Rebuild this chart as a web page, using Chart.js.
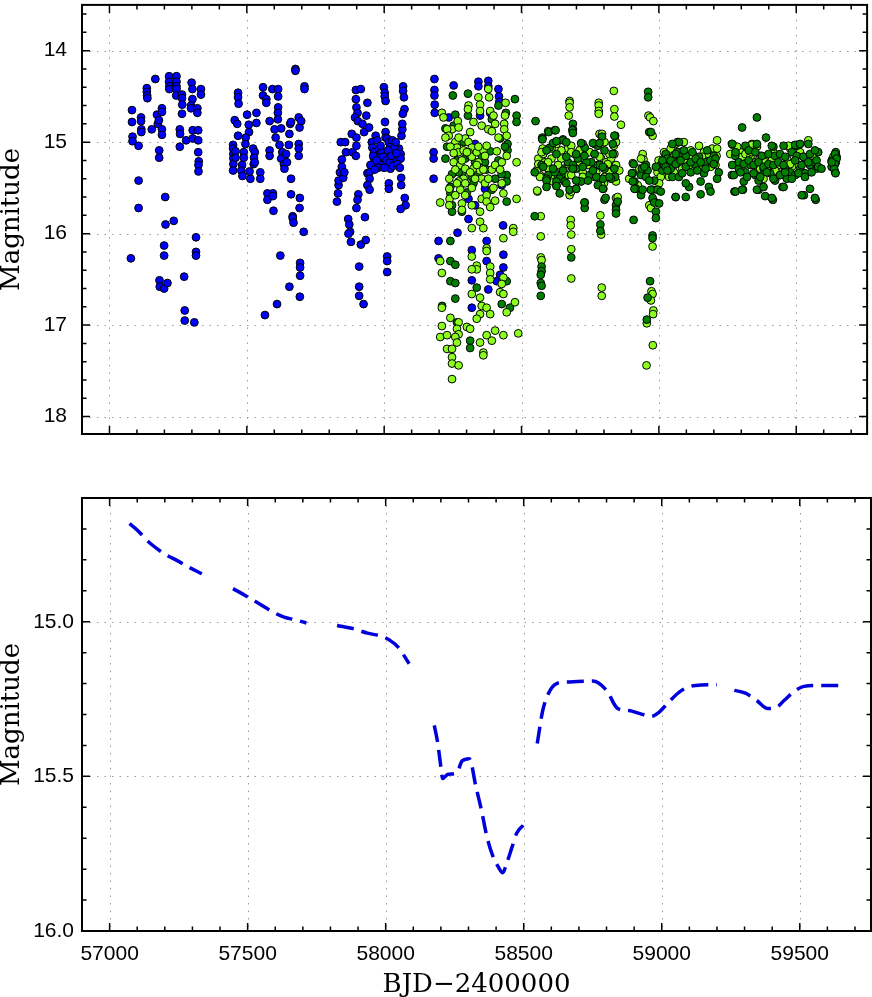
<!DOCTYPE html>
<html><head><meta charset="utf-8">
<script src="https://cdn.jsdelivr.net/npm/chart.js@4.4.1/dist/chart.umd.min.js"></script>
<style>
html,body{margin:0;padding:0;background:#fff;width:872px;height:997px;overflow:hidden}
#c1{position:absolute;left:0;top:0}
#c2{position:absolute;left:0;top:440px}
</style></head><body>
<canvas id="c1" width="872" height="440"></canvas>
<canvas id="c2" width="872" height="557"></canvas>
<script>
// ---------- tick labels ----------
const xTickLabels = [57000, 57500, 58000, 58500, 59000, 59500];
const topMagTicks = [14, 15, 16, 17, 18];
const botMagTicks = [15.0, 15.5, 16.0];

// ---------- top panel: [BJD-2400000, magnitude] ----------
const blueSeries = [
[57078,16.27],[57082,14.65],[57082,14.78],[57084,14.94],[57084,14.99],[57106,15.04],[57106,15.42],[57106,15.72],
[57115,14.73],[57115,14.77],[57116,14.86],[57116,14.89],[57136,14.41],[57136,14.45],[57137,14.49],[57138,14.52],
[57154,14.86],[57167,14.31],[57173,14.70],[57176,14.80],[57180,14.76],[57181,15.09],[57181,15.17],
[57191,14.63],[57191,14.67],[57191,14.86],[57191,14.92],[57203,15.60],[57204,15.90],[57199,16.13],[57199,16.24],
[57182,16.51],[57183,16.58],[57199,16.60],[57211,16.54],[57234,15.86],
[57217,14.28],[57217,14.34],[57218,14.39],[57218,14.42],[57244,14.28],[57244,14.34],[57244,14.39],[57244,14.42],[57243,14.49],
[57264,14.48],[57264,14.52],[57265,14.59],[57264,14.69],[57256,14.86],[57257,14.91],[57256,15.05],[57279,14.98],
[57272,16.47],[57274,16.84],[57274,16.95],[57309,16.97],[57299,14.35],[57302,14.42],[57302,14.53],[57297,14.60],[57297,14.63],
[57320,14.63],[57320,14.68],[57303,14.87],[57303,14.96],[57323,14.87],[57323,14.98],[57323,15.11],[57325,15.21],[57324,15.25],[57324,15.32],
[57315,16.04],[57315,16.20],[57315,16.24],[57333,14.42],[57333,14.48],
[57450,15.03],[57450,15.07],[57451,15.13],[57451,15.18],[57451,15.24],[57450,15.31],[57456,14.76],[57465,14.80],[57468,14.46],[57468,14.51],[57470,14.58],[57468,14.93],[57459,15.10],[57459,15.17],
[57501,14.70],[57507,14.81],[57508,14.89],[57496,14.95],[57495,15.02],[57489,15.11],[57489,15.17],[57483,15.25],[57480,15.31],[57484,15.37],
[57513,15.40],[57510,15.32],[57523,15.07],[57529,15.11],[57526,15.17],[57525,15.24],[57529,15.22],[57535,14.68],[57535,14.79],[57549,15.33],[57549,15.40],
[57559,14.40],[57559,14.49],[57571,14.53],[57571,14.57],[57583,14.77],[57583,15.09],[57583,15.15],
[57593,14.42],[57614,14.42],[57614,14.50],[57614,14.62],[57613,14.68],[57613,14.75],[57601,14.86],[57605,14.95],[57619,15.03],
[57575,15.56],[57575,15.63],[57595,15.56],[57595,15.59],[57597,15.75],[57622,16.24],[57610,16.77],[57566,16.89],
[57625,14.85],[57629,15.11],[57625,15.18],[57635,15.24],[57637,15.29],[57643,15.13],[57646,15.22],[57653,15.03],[57655,14.91],[57658,14.80],[57661,14.78],
[57661,15.40],[57661,15.57],[57667,15.81],[57667,15.83],[57670,15.88],[57677,14.20],[57677,14.22],
[57689,15.02],[57689,15.07],[57689,15.15],[57689,14.73],[57692,14.84],[57698,14.77],[57693,15.61],[57692,15.72],
[57694,16.32],[57694,16.37],[57694,16.46],[57655,16.58],[57693,16.69],[57707,15.98],[57710,14.39],[57710,14.42],
[57828,15.65],[57832,15.56],[57834,15.47],[57834,15.42],[57839,15.33],[57846,15.27],[57846,15.19],[57851,15.39],[57855,15.33],[57842,15.00],[57858,15.00],[57861,15.11],[57882,14.91],[57885,15.11],
[57869,15.84],[57873,15.90],[57876,15.98],[57870,16.00],[57879,16.09],
[57897,14.43],[57915,14.42],[57897,14.53],[57899,14.62],[57903,14.68],[57894,14.73],[57904,14.77],[57921,14.80],[57927,14.89],[57935,14.71],[57939,14.57],[57945,14.84],
[57899,14.95],[57899,15.04],[57897,15.15],[57906,15.57],[57903,15.63],[57899,15.72],[57915,16.12],[57930,15.82],[57933,16.07],
[57909,16.36],[57909,16.58],[57909,16.68],[57925,16.77],
[57939,15.34],[57947,15.33],[57947,15.40],[57939,15.47],[57947,15.52],
[57955,15.00],[57957,15.06],[57963,15.11],[57963,15.18],[57967,15.24],[57969,14.93],[57975,14.98],[57981,15.07],[57981,15.15],[57984,15.22],[57991,15.11],[57993,15.25],
[57999,14.40],[58002,14.46],[58002,14.50],[58005,14.55],[58003,14.78],[58005,14.89],[58005,14.95],[58011,14.96],[58017,15.00],
[58017,15.45],[58017,15.51],[58011,16.25],[58011,16.30],[58011,16.42],
[58023,15.05],[58023,15.11],[58023,15.29],[58030,14.98],[58036,15.11],[58042,15.18],[58054,15.07],[58060,15.13],[58060,15.18],[58063,14.93],[58066,14.86],[58066,14.80],
[58069,14.39],[58069,14.44],[58072,14.51],[58074,14.64],[58068,14.69],[58062,15.39],[58062,15.47],[58075,15.61],[58078,15.69],[58060,15.73],
[57960,15.15],[57972,15.20],[57978,15.28],[57987,15.04],[57996,15.16],[58008,15.20],[58014,15.09],[58020,15.22],[58026,15.15],[58032,15.26],[58038,15.05],[58044,15.12],[58048,15.24],[58057,15.28],[57950,15.25],[57966,15.30],[58000,15.28],[58042,15.00],
[58183,14.31],[58183,14.43],[58183,14.49],[58184,14.59],[58184,14.68],[58253,14.38],[58343,14.34],[58343,14.39],[58379,14.33],[58379,14.39],
[58416,14.42],[58418,14.50],[58419,14.56],[58180,15.11],[58180,15.18],[58180,15.40],[58307,15.84],[58267,15.99],[58198,16.08],[58373,16.08],
[58433,15.91],[58198,16.27],[58319,16.18],[58434,16.23],[58373,16.30],[58434,16.37],[58319,16.51],[58410,16.52],[58379,16.61],[58319,16.81],
[58422,16.45],[58428,15.47],[58367,15.51],[58331,15.02],[58349,14.71],[58235,14.73],[58386,14.68],[58307,15.62],[58331,15.69]
];

const limeSeries = [
[58210,14.68],[58216,14.73],[58247,14.86],[58268,14.77],[58271,14.84],[58229,14.86],[58235,14.93],[58259,15.00],[58265,15.06],[58295,14.96],[58307,15.00],[58319,15.06],[58313,14.89],
[58307,14.60],[58305,14.64],[58343,14.51],[58349,14.59],[58349,14.66],[58379,14.42],[58382,14.51],[58386,14.66],[58355,14.82],[58379,14.86],[58404,14.80],[58437,14.80],[58437,14.86],[58442,14.57],[58398,14.71],[58440,14.71],
[58271,15.11],[58289,15.09],[58307,15.11],[58319,15.16],[58337,15.11],[58361,15.09],[58373,15.04],[58343,15.22],[58253,15.22],[58277,15.25],[58295,15.29],[58325,15.29],[58349,15.31],[58289,15.40],[58271,15.43],[58355,15.40],[58367,15.45],
[58237,15.40],[58237,15.51],[58238,15.62],[58237,15.69],[58204,15.66],[58277,15.52],[58295,15.58],[58283,15.67],[58283,15.74],[58319,15.69],[58355,15.62],[58373,15.58],[58373,15.65],[58386,15.71],[58349,15.76],[58349,15.87],[58361,15.94],[58319,15.94],
[58428,15.22],[58482,15.22],[58482,15.62],[58434,15.56],[58470,15.94],[58470,15.98],[58434,16.05],[58373,16.16],[58373,16.19],[58319,16.25],[58337,16.35],[58337,16.39],[58319,16.39],[58386,16.36],[58386,16.43],[58386,16.50],
[58434,16.48],[58428,16.55],[58422,16.64],[58434,16.66],[58204,16.30],[58210,16.43],[58319,16.66],[58349,16.70],[58355,16.79],[58373,16.81],[58386,16.88],[58349,16.88],[58337,16.93],[58210,16.81],[58241,16.92],[58271,16.97],
[58301,17.02],[58265,17.04],[58271,17.10],[58210,17.01],[58204,17.13],[58229,17.11],[58259,17.13],[58265,17.19],[58313,17.04],[58349,17.19],[58373,17.11],[58392,17.17],[58404,17.06],[58434,17.11],[58446,16.86],[58476,16.75],[58488,17.09],
[58229,17.26],[58247,17.26],[58361,17.30],[58361,17.33],[58247,17.35],[58247,17.42],[58271,17.44],[58247,17.59],
[58223,14.95],[58241,15.05],[58253,15.12],[58259,15.30],[58265,15.45],[58283,15.20],[58295,15.45],[58301,15.11],[58313,15.33],[58319,15.50],[58331,15.40],[58337,15.25],[58343,15.05],[58361,15.30],[58367,15.15],
[58379,15.40],[58392,15.30],[58398,15.50],[58404,15.25],[58410,15.10],[58416,14.95],[58422,15.30],[58428,15.45],[58446,15.15],[58446,14.93],[58259,15.58],[58271,14.95],[58325,14.78],[58392,14.88],[58404,15.64],
[58836,14.44],[58675,14.55],[58675,14.57],[58675,14.62],[58672,14.71],[58781,14.57],[58781,14.60],[58781,14.66],[58781,14.69],[58838,14.64],[58838,14.72],[58862,14.81],[58784,14.91],[58792,14.93],[58577,15.07],[58558,15.54],
[58675,15.58],[58681,15.54],[58798,15.51],[58800,15.45],[58836,15.04],[58838,15.13],[58844,15.25],[58570,15.81],[58570,16.03],[58570,16.26],[58573,16.29],[58679,15.85],[58679,15.91],[58681,16.01],[58681,16.17],[58681,16.49],
[58787,15.80],[58790,16.01],[58792,16.59],[58792,16.68],[58844,15.61],[58848,15.65],
[58561,15.18],[58585,15.22],[58609,15.18],[58633,15.25],[58657,15.29],[58567,15.36],[58615,15.43],[58663,15.36],[58579,15.13],[58627,15.02],[58669,15.07],[58693,15.13],[58717,15.07],[58742,15.11],
[58766,15.13],[58790,15.18],[58814,15.25],[58723,15.33],[58772,15.33],[58820,15.33],[58711,15.24],[58760,15.27],[58808,15.22],[58555,15.31],[58681,15.04],[58826,15.18],[58645,15.18],[58597,15.29],
[58597,14.88],[58793,14.91],[58576,14.95],[58651,14.97],[58723,15.02],[58766,15.02],[58802,15.00],[58844,15.00],
[58573,15.11],[58609,15.07],[58645,15.09],[58681,15.11],[58711,15.09],[58748,15.11],[58784,15.16],[58820,15.13],
[58561,15.24],[58597,15.22],[58633,15.25],[58669,15.24],[58705,15.22],[58742,15.25],[58778,15.25],[58814,15.24],[58856,15.31],
[58567,15.38],[58609,15.36],[58645,15.38],[58681,15.36],[58723,15.38],[58766,15.38],[58802,15.38],[58844,15.43],[58557,15.53],[58790,15.47],[58850,15.60],
[58962,14.71],[58968,14.73],[58980,14.77],[58977,14.93],[58892,15.40],[58905,15.34],[58929,15.29],[58941,15.13],[58944,15.19],[58965,15.69],[58971,15.72],[58977,15.52],[58995,15.33],[59019,15.18],
[58977,16.14],[58973,16.63],[58977,16.66],[58971,16.73],[58980,16.84],[58979,16.88],[58956,16.98],[58978,17.22],[58955,17.44],
[58905,15.23],[58923,15.47],[58935,15.18],[58999,15.20],[59025,15.34],[59061,15.02],[59049,15.29],
[59067,15.00],[59091,15.00],[59146,15.04],[59212,14.98],[59210,15.15],[59019,15.11],[59043,15.07],[59055,15.15],[59079,15.11],[59116,15.09],[59128,15.15],[59164,15.11],[59176,15.18],[59194,15.07],
[59140,15.22],[59104,15.20],[59055,15.33],[59037,15.38],[59007,15.38],[59001,15.45],[59085,15.29],[59188,15.27],[59206,15.25],[59152,15.29],
[59025,15.22],[59049,15.24],[59073,15.16],[59098,15.20],[59122,15.16],[59158,15.16],[59182,15.13],[59212,15.07],[59110,15.25],[59170,15.25],
[59273,15.04],[59297,15.11],[59321,15.07],[59339,15.02],[59369,15.15],[59393,15.20],[59417,15.11],[59441,15.25],[59466,15.18],[59478,15.07],[59490,15.04],[59514,15.11],[59526,15.16],[59544,14.98],
[59562,15.15],[59502,15.24],[59429,15.33],[59357,15.27],[59309,15.18],[59285,15.24],[59381,15.40],[59454,15.36],[59484,15.27],[59411,15.25],[59345,15.22],
[59285,15.05],[59339,15.03],[59357,15.05],[59472,15.04],[59260,15.13],[59291,15.18],[59303,15.16],[59315,15.13],[59333,15.16],[59339,15.11],[59363,15.20],[59387,15.22],[59411,15.20],[59478,15.24],[59369,15.29],[59393,15.30],[59423,15.31],
[59635,15.25],[59637,15.18],[59635,15.16]
];

const greenSeries = [
[58250,14.49],[58253,14.82],[58223,14.85],[58223,15.18],[58241,15.49],[58241,15.56],[58247,15.69],[58283,15.76],[58247,15.76],[58446,15.36],[58446,15.43],[58422,14.96],[58449,15.02],[58449,15.09],
[58482,14.71],[58482,14.78],[58476,14.53],[58305,14.47],[58305,14.71],[58416,14.60],[58443,14.68],[58392,15.52],[58446,15.65],[58211,16.79],[58241,16.08],[58241,16.30],[58259,16.34],[58241,16.52],
[58259,16.54],[58259,16.71],[58337,16.59],[58428,16.77],[58458,16.81],[58313,17.17],[58313,17.25],[58265,16.97],[58446,16.52],[58283,15.34],[58319,15.38],[58295,15.18],[58331,15.22],[58271,15.33],[58367,15.22],
[58229,15.05],[58247,15.35],[58265,15.20],[58289,15.00],[58301,15.55],[58313,15.15],[58325,15.45],[58343,15.35],[58355,15.15],[58373,15.30],[58386,15.10],[58404,15.40],[58416,15.20],[58428,15.35],[58440,15.05],[58259,14.70],[58392,14.75],
[58573,16.36],[58573,16.41],[58570,16.45],[58570,16.54],[58573,16.57],[58570,16.68],[58681,16.26],[58787,15.90],[58787,15.97],[58844,15.69],[58844,15.74],[58844,15.78],
[58573,15.25],[58597,15.36],[58621,15.33],[58645,15.36],[58669,15.22],[58591,15.40],[58639,15.40],[58603,15.06],[58651,14.98],[58705,15.18],[58730,15.06],[58754,15.22],[58778,15.04],[58802,15.29],
[58699,15.29],[58748,15.36],[58796,15.40],[58687,15.25],[58736,15.22],[58784,15.25],[58627,15.47],[58699,15.51],[58772,15.38],[58841,15.38],[58548,15.33],[58826,15.40],[58657,15.43],[58717,15.43],
[58599,14.89],[58621,14.87],[58575,14.96],[58551,14.77],[58687,14.80],[58687,14.86],[58841,14.93],[58730,15.66],[58730,15.72],[58802,15.63],[58548,15.81],[58908,15.85],
[58624,14.87],[58685,14.87],[58687,14.90],[58793,14.94],[58838,14.93],[58576,14.97],[58615,15.01],[58627,14.99],[58663,15.00],[58717,15.01],[58760,15.01],[58784,15.01],[58832,15.02],
[58591,15.09],[58627,15.13],[58663,15.16],[58699,15.13],[58729,15.15],[58766,15.13],[58802,15.09],[58832,15.13],
[58579,15.27],[58615,15.29],[58651,15.31],[58687,15.29],[58723,15.27],[58760,15.31],[58796,15.27],[58838,15.29],
[58591,15.42],[58627,15.43],[58663,15.45],[58699,15.42],[58742,15.42],[58778,15.47],[58820,15.38],
[58591,15.49],[58627,15.48],[58675,15.52],[58699,15.51],[58729,15.66],[58796,15.51],[58806,15.61],[58850,15.65],[58639,15.56],
[58961,14.45],[58961,14.51],[58965,14.89],[58911,15.43],[58917,15.51],[58935,15.36],[58935,15.58],[58908,15.24],[58953,15.25],[58983,15.65],[58989,15.76],[58989,15.83],[58983,15.42],[59007,15.25],[59025,15.13],[58959,15.31],
[58977,16.02],[58977,16.05],[58968,16.52],[58959,16.70],[58956,16.94],
[58902,15.34],[58905,15.43],[58911,15.51],[58938,15.29],[58947,15.27],[58953,15.38],[58941,15.52],[58965,15.42],[58971,15.52],[58971,14.89],[58989,15.27],[59013,15.31],[59037,15.24],[59073,15.00],[59067,15.11],[59079,15.16],[59049,15.38],[58995,15.52],[58977,15.61],[58983,15.66],[59061,15.60],
[59031,15.18],[59067,15.22],[59098,15.15],[59134,15.25],[59170,15.22],[59200,15.15],[59218,15.33],[59212,15.40],[59182,15.49],[59188,15.54],[59152,15.57],[59152,15.43],[59110,15.49],[59098,15.45],
[59061,15.60],[59098,15.60],[59007,15.54],[59001,15.67],[59043,15.29],[59116,15.33],[59073,15.38],[59164,15.34],[59019,15.25],[59146,15.16],[59049,15.02],
[59013,15.20],[59025,15.27],[59043,15.20],[59061,15.24],[59079,15.20],[59098,15.27],[59116,15.22],[59134,15.18],[59152,15.22],[59170,15.29],[59188,15.20],[59206,15.18],[59061,15.13],[59091,15.09],[59122,15.11],[59176,15.09],[59200,15.24],[59140,15.31],[59031,15.31],[59085,15.34],
[59303,14.84],[59357,14.73],[59390,14.95],[59266,15.02],[59278,15.15],[59291,15.29],[59315,15.33],[59333,15.25],[59351,15.36],[59363,15.42],[59381,15.29],[59405,15.34],[59423,15.42],[59441,15.36],
[59460,15.29],[59478,15.33],[59496,15.36],[59514,15.29],[59532,15.34],[59550,15.25],[59568,15.22],[59574,15.29],[59580,15.11],[59544,15.02],[59417,15.05],[59357,15.02],[59266,15.36],[59309,15.43],
[59466,15.40],[59502,15.04],[59275,15.54],[59306,15.52],[59363,15.52],[59387,15.59],[59415,15.63],[59450,15.49],[59528,15.58],[59550,15.51],[59571,15.63],
[59267,15.02],[59315,15.04],[59411,15.04],[59454,15.04],[59496,15.03],[59514,15.02],
[59279,15.11],[59327,15.09],[59351,15.11],[59375,15.15],[59399,15.13],[59423,15.15],[59441,15.13],[59460,15.16],[59484,15.11],[59502,15.15],[59526,15.16],[59550,15.13],[59568,15.09],
[59267,15.25],[59291,15.22],[59309,15.24],[59327,15.20],[59345,15.25],[59363,15.22],[59381,15.27],[59399,15.24],[59417,15.25],[59435,15.22],[59454,15.25],[59496,15.20],[59520,15.25],[59544,15.22],[59574,15.20],
[59273,15.36],[59297,15.33],[59321,15.38],[59345,15.34],[59369,15.38],[59393,15.33],[59417,15.40],[59441,15.36],[59460,15.33],[59484,15.40],[59508,15.34],[59532,15.38],[59556,15.33],[59580,15.27],
[59279,15.54],[59303,15.52],[59357,15.52],[59381,15.49],[59411,15.61],[59454,15.49],[59520,15.58],[59568,15.61],[59592,15.29],
[59644,15.11],[59647,15.16],[59644,15.22],[59642,15.33],[59629,15.20],[59629,15.27],[59641,15.13],[59647,15.18],[59641,15.24],[59638,15.29],[59643,15.34],[59629,15.22]
];

// season boundary used only to decide which colour sits on top in the overlap
const SPLIT_JD = 58520;

// ---------- bottom panel: smoothed curve (null = gap) ----------
const curveJD  = [57072,57099,57149,57209,57240,57290,57334, 57390, 57447,57491,57542,57592,57632,57673,57713, 57770,
  57824,57884,57934,57985,58015,58045,58085, 58130,
  58176,58188,58200,58206,58226,58257,58277,58303,58327,58347,58367,58387,58408,58424,58438,58458,58474,58498, 58525,
  58549,58569,58589,58619,58659,58750,58800,58841,58881,58921,58961,58991,59022,59072,59122,59183,59200, 59230,
  59263,59303,59343,59384,59414,59444,59485,59515,59565,59646];
const curveMag = [14.683,14.703,14.748,14.786,14.800,14.825,14.845, null, 14.893,14.915,14.942,14.969,14.985,14.994,15.004, null,
  15.012,15.023,15.037,15.047,15.060,15.082,15.136, null,
  15.335,15.389,15.470,15.507,15.493,15.489,15.450,15.443,15.534,15.610,15.696,15.755,15.793,15.812,15.782,15.728,15.685,15.658, null,
  15.394,15.287,15.233,15.200,15.195,15.192,15.222,15.281,15.287,15.297,15.306,15.292,15.263,15.222,15.206,15.204,15.204, null,
  15.222,15.231,15.254,15.281,15.278,15.254,15.222,15.209,15.206,15.206];

// ---------- helpers ----------
const range = (a, b, s) => { const r = []; for (let v = a; v <= b + 1e-9; v += s) r.push(+v.toFixed(4)); return r; };
const pts = arr => arr.map(([x, y]) => ({x, y}));
const early = arr => arr.filter(p => p[0] < SPLIT_JD);
const late = arr => arr.filter(p => p[0] >= SPLIT_JD);
const noPad = s => { s.paddingTop = 0; s.paddingBottom = 0; s.paddingLeft = 0; s.paddingRight = 0; };

const framePlugin = {
  id: 'frame',
  beforeDatasetsDraw(chart, args, o) {
    const {ctx, chartArea: a} = chart, x = chart.scales.x, y = chart.scales.y;
    ctx.save();
    ctx.strokeStyle = '#9a9a9a'; ctx.lineWidth = 1; ctx.setLineDash([1.5, 6]);
    ctx.beginPath();
    o.xMajor.forEach(v => { const p = Math.round(x.getPixelForValue(v)) + 0.5; ctx.moveTo(p, a.top); ctx.lineTo(p, a.bottom); });
    o.yMajor.forEach(v => { const p = Math.round(y.getPixelForValue(v)) + 0.5; ctx.moveTo(a.left, p); ctx.lineTo(a.right, p); });
    ctx.stroke(); ctx.restore();
  },
  afterDatasetsDraw(chart, args, o) {
    const {ctx, chartArea: a} = chart, x = chart.scales.x, y = chart.scales.y;
    ctx.save();
    ctx.strokeStyle = '#000'; ctx.lineWidth = 1.5; ctx.beginPath();
    const tx = (v, L) => { const p = x.getPixelForValue(v); ctx.moveTo(p, a.bottom); ctx.lineTo(p, a.bottom - L); ctx.moveTo(p, a.top); ctx.lineTo(p, a.top + L); };
    const ty = (v, L) => { const p = y.getPixelForValue(v); ctx.moveTo(a.left, p); ctx.lineTo(a.left + L, p); ctx.moveTo(a.right, p); ctx.lineTo(a.right - L, p); };
    o.xMinor.forEach(v => tx(v, 4.5)); o.xMajor.forEach(v => tx(v, 8));
    o.yMinor.forEach(v => ty(v, 4.5)); o.yMajor.forEach(v => ty(v, 8));
    ctx.stroke();
    ctx.lineWidth = 2; ctx.strokeRect(a.left, a.top, a.right - a.left, a.bottom - a.top);
    ctx.restore();
  }
};

const tickFont = {family: 'Liberation Sans', size: 21};
const titleFont = {family: 'DejaVu Serif', size: 26, lineHeight: 0.92};
const XMIN = 56900, XMAX = 59758;
const BLUE = '#0000ff', DARK = '#007f00', LIME = '#8cff1e';

const ptStyle = (fill, order) => ({
  type: 'scatter', backgroundColor: fill, borderColor: '#000', borderWidth: 1,
  pointRadius: 3.9, pointHoverRadius: 3.9, order
});

new Chart(document.getElementById('c1'), {
  type: 'scatter',
  data: { datasets: [
    Object.assign({ label: 'blue', data: pts(blueSeries) }, ptStyle(BLUE, 5)),
    Object.assign({ label: 'dark-early', data: pts(early(greenSeries)) }, ptStyle(DARK, 4)),
    Object.assign({ label: 'lime-early', data: pts(early(limeSeries)) }, ptStyle(LIME, 3)),
    Object.assign({ label: 'lime-late', data: pts(late(limeSeries)) }, ptStyle(LIME, 2)),
    Object.assign({ label: 'dark-late', data: pts(late(greenSeries)) }, ptStyle(DARK, 1))
  ]},
  options: {
    responsive: false, animation: false, devicePixelRatio: 1,
    layout: { padding: { top: 2, right: 1, left: 0, bottom: 0 } },
    plugins: { legend: { display: false }, tooltip: { enabled: false },
      frame: { xMajor: xTickLabels, xMinor: range(56900, 59700, 100), yMajor: topMagTicks, yMinor: range(13.6, 18.0, 0.2) } },
    scales: {
      x: { type: 'linear', min: XMIN, max: XMAX,
        grid: { display: false, drawTicks: false }, border: { display: false },
        ticks: { display: false }, afterFit: s => { s.height = 6; noPad(s); } },
      y: { type: 'linear', reverse: true, min: 13.5, max: 18.19,
        afterBuildTicks: s => { s.ticks = topMagTicks.map(v => ({ value: v })); },
        grid: { display: false, drawTicks: false }, border: { display: false },
        ticks: { font: tickFont, color: '#000', padding: 15, autoSkip: false },
        title: { display: true, text: 'Magnitude', font: titleFont, color: '#000', padding: 0 },
        afterFit: s => { s.width = 82; noPad(s); } }
    }
  },
  plugins: [framePlugin]
});

new Chart(document.getElementById('c2'), {
  type: 'line',
  data: { datasets: [{
    label: 'curve', data: curveJD.map((x, i) => ({ x, y: curveMag[i] })),
    borderColor: '#0000dc', borderWidth: 3.5, borderDash: [17, 8], pointRadius: 0,
    spanGaps: false, cubicInterpolationMode: 'monotone', fill: false
  }]},
  options: {
    responsive: false, animation: false, devicePixelRatio: 1,
    layout: { padding: { top: 58, right: 1, left: 0, bottom: 0 } },
    plugins: { legend: { display: false }, tooltip: { enabled: false },
      frame: { xMajor: xTickLabels, xMinor: range(56900, 59700, 100), yMajor: botMagTicks, yMinor: range(14.7, 16.0, 0.1) } },
    scales: {
      x: { type: 'linear', min: XMIN, max: XMAX,
        afterBuildTicks: s => { s.ticks = xTickLabels.map(v => ({ value: v })); },
        grid: { display: false, drawTicks: false }, border: { display: false },
        ticks: { font: tickFont, color: '#000', padding: 11, autoSkip: false, maxRotation: 0, callback: v => String(v) },
        title: { display: true, text: 'BJD\u22122400000', font: titleFont, color: '#000', padding: 0 },
        afterFit: s => { s.height = 66; noPad(s); } },
      y: { type: 'linear', reverse: true, min: 14.6, max: 16.0,
        afterBuildTicks: s => { s.ticks = botMagTicks.map(v => ({ value: v })); },
        grid: { display: false, drawTicks: false }, border: { display: false },
        ticks: { font: tickFont, color: '#000', padding: 8, autoSkip: false, callback: v => Number(v).toFixed(1) },
        title: { display: true, text: 'Magnitude', font: titleFont, color: '#000', padding: 0 },
        afterFit: s => { s.width = 82; noPad(s); } }
    }
  },
  plugins: [framePlugin]
});
</script>
</body></html>
